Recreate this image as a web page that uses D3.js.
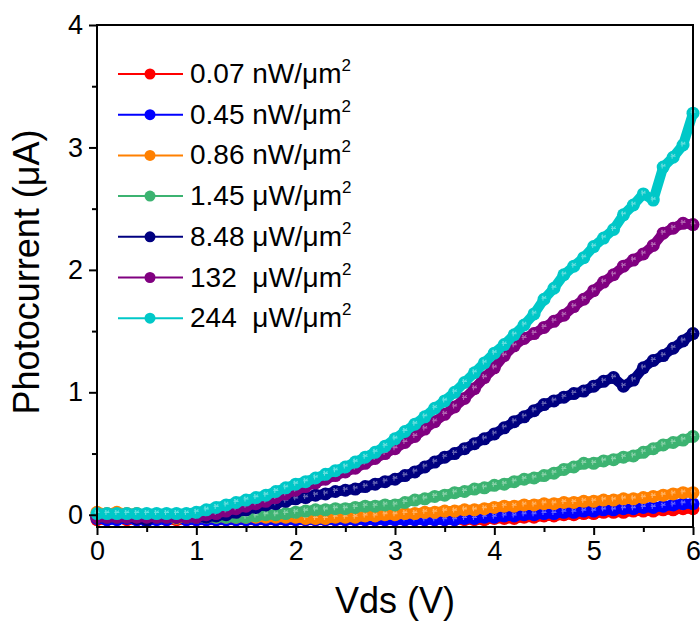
<!DOCTYPE html>
<html>
<head>
<meta charset="utf-8">
<script src="https://cdn.jsdelivr.net/npm/d3@7"></script>
<style>
  body { margin: 0; background: #fff; }
  text { font-family: Arial, "Liberation Sans", sans-serif; fill: #000; }
</style>
</head>
<body>
<script>
// Vds sweep (V)
var vds = [0.0,0.1,0.2,0.3,0.4,0.5,0.6,0.7,0.8,0.9,1.0,
  1.1,1.2,1.3,1.4,1.5,1.6,1.7,1.8,1.9,2.0,
  2.1,2.2,2.3,2.4,2.5,2.6,2.7,2.8,2.9,3.0,
  3.1,3.2,3.3,3.4,3.5,3.6,3.7,3.8,3.9,4.0,
  4.1,4.2,4.3,4.4,4.5,4.6,4.7,4.8,4.9,5.0,
  5.1,5.2,5.3,5.4,5.5,5.6,5.7,5.8,5.9,6.0];

// photocurrent (uA) per illumination power
var i007 = [-0.04,-0.04,-0.03,-0.04,-0.04,-0.04,-0.03,-0.04,-0.04,-0.04,-0.04,
  -0.04,-0.04,-0.04,-0.04,-0.04,-0.04,-0.04,-0.04,-0.04,-0.04,
  -0.04,-0.04,-0.04,-0.04,-0.04,-0.04,-0.04,-0.04,-0.04,-0.04,
  -0.04,-0.04,-0.04,-0.04,-0.04,-0.04,-0.04,-0.04,-0.04,-0.03,
  -0.03,-0.03,-0.02,-0.02,-0.01,-0.01,0.0,0.0,0.01,0.01,
  0.02,0.02,0.02,0.03,0.03,0.03,0.04,0.04,0.05,0.05];
var i045 = [-0.03,-0.04,-0.04,-0.03,-0.04,-0.05,-0.04,-0.04,-0.03,-0.04,-0.04,
  -0.04,-0.04,-0.04,-0.04,-0.04,-0.04,-0.04,-0.04,-0.04,-0.04,
  -0.04,-0.04,-0.04,-0.04,-0.04,-0.04,-0.04,-0.04,-0.04,-0.04,
  -0.04,-0.04,-0.04,-0.04,-0.04,-0.04,-0.03,-0.03,-0.02,-0.02,
  -0.01,-0.01,0.0,0.0,0.01,0.01,0.02,0.02,0.03,0.03,
  0.04,0.04,0.05,0.05,0.06,0.06,0.07,0.08,0.09,0.09];
var i086 = [0.02,0.01,0.02,0.01,0.01,0.0,0.0,-0.01,-0.03,-0.02,-0.02,
  -0.02,-0.02,-0.02,-0.02,-0.02,-0.02,-0.02,-0.02,-0.02,-0.02,
  -0.03,-0.03,-0.03,-0.02,-0.02,-0.02,-0.01,-0.01,0.0,0.0,
  0.01,0.01,0.02,0.02,0.03,0.03,0.04,0.04,0.05,0.06,
  0.07,0.07,0.08,0.08,0.09,0.09,0.10,0.10,0.11,0.11,
  0.12,0.12,0.13,0.13,0.14,0.15,0.16,0.17,0.18,0.18];
var i145 = [-0.02,-0.02,-0.02,-0.02,-0.02,-0.02,-0.02,-0.02,-0.02,-0.02,-0.02,
  -0.02,-0.02,-0.02,-0.02,-0.02,-0.01,0.0,0.0,0.01,0.02,
  0.03,0.04,0.04,0.05,0.05,0.06,0.07,0.07,0.08,0.08,
  0.1,0.12,0.13,0.15,0.16,0.18,0.19,0.21,0.22,0.24,
  0.25,0.27,0.29,0.3,0.32,0.34,0.37,0.39,0.42,0.42,
  0.44,0.45,0.47,0.48,0.51,0.54,0.57,0.59,0.61,0.64];
var i848 = [-0.02,-0.02,-0.02,-0.02,-0.03,-0.04,-0.02,-0.02,-0.02,-0.02,-0.02,
  -0.02,-0.01,0.0,0.02,0.04,0.06,0.08,0.09,0.11,0.13,
  0.14,0.16,0.17,0.19,0.2,0.21,0.23,0.25,0.27,0.29,
  0.32,0.35,0.39,0.43,0.47,0.5,0.54,0.58,0.62,0.66,
  0.71,0.76,0.8,0.85,0.9,0.93,0.96,0.99,1.01,1.05,
  1.09,1.12,1.05,1.1,1.2,1.26,1.3,1.36,1.42,1.48];
var i132 = [-0.02,-0.02,-0.02,-0.02,-0.02,-0.02,-0.02,-0.02,-0.02,-0.02,-0.02,
  0.0,0.01,0.03,0.05,0.07,0.09,0.11,0.14,0.17,0.2,
  0.23,0.26,0.29,0.32,0.35,0.38,0.42,0.46,0.5,0.54,
  0.59,0.64,0.7,0.76,0.82,0.88,0.95,1.03,1.12,1.2,
  1.3,1.38,1.44,1.48,1.53,1.58,1.63,1.7,1.76,1.83,
  1.9,1.96,2.03,2.08,2.13,2.2,2.3,2.34,2.38,2.37];
var i244 = [0.01,0.01,0.01,0.01,0.01,0.01,0.01,0.01,0.01,0.01,0.02,
  0.04,0.06,0.08,0.1,0.12,0.14,0.16,0.19,0.22,0.25,
  0.27,0.3,0.33,0.36,0.39,0.43,0.47,0.51,0.56,0.62,
  0.68,0.74,0.8,0.87,0.93,1.0,1.08,1.16,1.24,1.32,
  1.39,1.47,1.55,1.64,1.76,1.85,1.96,2.03,2.1,2.19,
  2.26,2.33,2.45,2.53,2.62,2.57,2.84,2.92,3.02,3.28];

var labels = ["0.07 nW/\u03bcm", "0.45 nW/\u03bcm", "0.86 nW/\u03bcm", "1.45 \u03bcW/\u03bcm",
  "8.48 \u03bcW/\u03bcm", "132  \u03bcW/\u03bcm", "244  \u03bcW/\u03bcm"];
var colors = ["#ff0000", "#0000ff", "#ff8000", "#3cb371", "#000080", "#800080", "#00c8c8"];
var currents = [i007, i045, i086, i145, i848, i132, i244];

var xTicks = [0, 1, 2, 3, 4, 5, 6];
var yTicks = [0, 1, 2, 3, 4];

/***** Configuration *****/
var W = 700, H = 623;
var margin = {top: 25, right: 7, bottom: 96, left: 97};
var width = W - margin.left - margin.right;
var height = H - margin.top - margin.bottom;

var x = d3.scaleLinear().domain([0, 6]).range([0, width]);
var y = d3.scaleLinear().domain([-0.1, 4]).range([height, 0]);

var svg = d3.select("body").append("svg")
  .attr("width", W)
  .attr("height", H);

var g = svg.append("g")
  .attr("transform", "translate(" + margin.left + "," + margin.top + ")");

var series = currents.map(function(vals, k) {
  return {
    label: labels[k],
    color: colors[k],
    values: vds.map(function(v, i) { return {v: v, c: vals[i]}; })
  };
});

var line = d3.line()
  .x(function(d) { return x(d.v); })
  .y(function(d) { return y(d.c); });

// disque avec une petite étoile pâle, comme les marqueurs d'origine
function marker(sel, r) {
  sel.append("circle").attr("r", r).attr("fill", function(d) { return d.color; });
  sel.append("path")
    .attr("d", "M-2.5,-1H2.5M-1,-3.5V1.5M-2,-3L0,-1M2,-3L0,-1")
    .attr("stroke", "#fff")
    .attr("stroke-opacity", 0.4)
    .attr("stroke-width", 1.1);
}

/***** Courbes *****/
series.forEach(function(s) {
  var sg = g.append("g");
  // bande épaisse : les points d'origine se chevauchent
  sg.append("path")
    .attr("d", line(s.values))
    .attr("fill", "none")
    .attr("stroke", s.color)
    .attr("stroke-width", 10)
    .attr("stroke-linejoin", "round")
    .attr("stroke-linecap", "round");
  var pts = sg.selectAll("g.pt")
    .data(s.values.map(function(d) { return {v: d.v, c: d.c, color: s.color}; }))
    .enter().append("g")
    .attr("class", "pt")
    .attr("transform", function(d) { return "translate(" + x(d.v) + "," + y(d.c) + ")"; });
  marker(pts, 6.5);
});

/***** Axes *****/
var xAxis = d3.axisBottom(x).tickValues(xTicks).tickSize(8).tickPadding(6).tickFormat(d3.format("d"));
var yAxis = d3.axisLeft(y).tickValues(yTicks).tickSize(8).tickPadding(6).tickFormat(d3.format("d"));
var xMinor = d3.axisBottom(x).tickValues([0.5, 1.5, 2.5, 3.5, 4.5, 5.5]).tickSize(5).tickFormat("");
var yMinor = d3.axisLeft(y).tickValues([0.5, 1.5, 2.5, 3.5]).tickSize(5).tickFormat("");

function styleAxis(a) {
  a.select(".domain").remove();
  a.selectAll("line").attr("stroke", "#000").attr("stroke-width", 2);
  a.selectAll("text").attr("font-size", 27).attr("font-family", "Arial, 'Liberation Sans', sans-serif");
}

g.append("g").attr("transform", "translate(0," + height + ")").call(xAxis).call(styleAxis);
g.append("g").attr("transform", "translate(0," + height + ")").call(xMinor).call(styleAxis);
g.append("g").call(yAxis).call(styleAxis);
g.append("g").call(yMinor).call(styleAxis);

g.append("rect")
  .attr("width", width)
  .attr("height", height)
  .attr("fill", "none")
  .attr("stroke", "#000")
  .attr("stroke-width", 2);

// titres des axes
svg.append("text")
  .attr("x", margin.left + width / 2)
  .attr("y", 613)
  .attr("text-anchor", "middle")
  .attr("font-size", 36)
  .text("Vds (V)");

svg.append("text")
  .attr("transform", "translate(39," + (margin.top + height / 2 - 4) + ") rotate(-90)")
  .attr("text-anchor", "middle")
  .attr("font-size", 36)
  .text("Photocurrent (\u03bcA)");

/***** Légende *****/
var legend = svg.append("g").attr("transform", "translate(118,74)");
var rows = legend.selectAll("g.row")
  .data(series)
  .enter().append("g")
  .attr("class", "row")
  .attr("transform", function(d, i) { return "translate(0," + (i * 40.7) + ")"; });

rows.append("line")
  .attr("x1", 0).attr("x2", 65)
  .attr("stroke", function(d) { return d.color; })
  .attr("stroke-width", 2);

rows.append("circle")
  .attr("cx", 32)
  .attr("r", 5.5)
  .attr("fill", function(d) { return d.color; });

var lt = rows.append("text")
  .attr("x", 72)
  .attr("y", 9)
  .attr("font-size", 28)
  .style("white-space", "pre");
lt.append("tspan").text(function(d) { return d.label; });
lt.append("tspan").attr("dy", -12).attr("font-size", 17).text("2");
</script>
</body>
</html>
